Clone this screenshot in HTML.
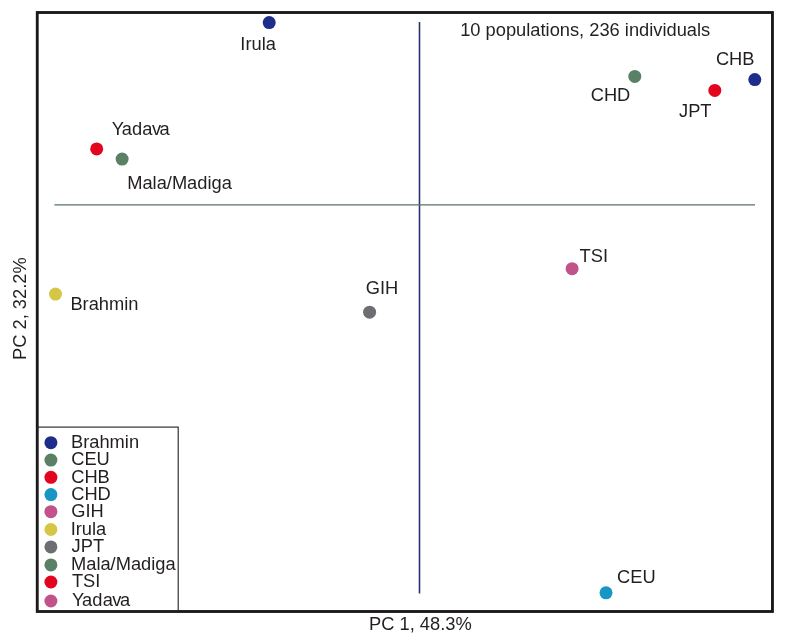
<!DOCTYPE html>
<html>
<head>
<meta charset="utf-8">
<title>PCA plot</title>
<style>
  html, body { margin: 0; padding: 0; background: #ffffff; }
  body { width: 785px; height: 640px; overflow: hidden; }
  svg { display: block; will-change: transform; }
  text { font-family: "Liberation Sans", sans-serif; font-size: 18.3px; fill: #231f20; }
</style>
</head>
<body>
<svg width="785" height="640" viewBox="0 0 785 640">
  <rect x="0" y="0" width="785" height="640" fill="#ffffff"/>

  <!-- plot frame -->
  <rect x="37.25" y="12.5" width="735.2" height="599" fill="none" stroke="#1a1718" stroke-width="2.85"/>

  <!-- axes through origin -->
  <line x1="419.5" y1="22" x2="419.5" y2="593.5" stroke="#2a3470" stroke-width="1.6"/>
  <line x1="54.4" y1="204.8" x2="755" y2="204.8" stroke="#557560" stroke-width="1.25"/>

  <!-- legend box -->
  <rect x="37.5" y="427.1" width="140.7" height="184.4" fill="none" stroke="#231f20" stroke-width="1.1"/>

  <!-- data points -->
  <circle cx="269.2" cy="22.6" r="6.5" fill="#1e2d8a"/>
  <circle cx="96.7"  cy="148.9" r="6.5" fill="#e3051f"/>
  <circle cx="122.1" cy="159.1" r="6.5" fill="#5a8166"/>
  <circle cx="55.5"  cy="294.1" r="6.5" fill="#d6c646"/>
  <circle cx="369.6" cy="312.2" r="6.5" fill="#6d6e71"/>
  <circle cx="572.1" cy="268.7" r="6.5" fill="#c2528a"/>
  <circle cx="634.8" cy="76.4" r="6.5" fill="#5a8166"/>
  <circle cx="714.8" cy="90.4" r="6.5" fill="#e3051f"/>
  <circle cx="754.8" cy="79.6" r="6.5" fill="#1e2d8a"/>
  <circle cx="606.0" cy="592.8" r="6.5" fill="#1896c3"/>

  <!-- point labels -->
  <text x="240.3" y="49.6">Irula</text>
  <text x="111.7" y="134.9" dx="0 -0.9 0.15 0.15 -0.5 -1.5">Yadava</text>
  <text x="127.2" y="189.0">Mala/Madiga</text>
  <text x="70.4" y="309.9">Brahmin</text>
  <text x="365.7" y="294.3">GIH</text>
  <text x="579.6" y="262.2">TSI</text>
  <text x="590.7" y="100.8">CHD</text>
  <text x="679.0" y="116.9">JPT</text>
  <text x="715.9" y="65.1">CHB</text>
  <text x="617.1" y="582.6">CEU</text>
  <text x="460.2" y="35.8">10 populations, 236 individuals</text>

  <!-- axis labels -->
  <text x="369.0" y="630.2">PC 1, 48.3%</text>
  <text transform="translate(25.6 360.0) rotate(-90)">PC 2, 32.2%</text>

  <!-- legend -->
  <g>
    <circle cx="50.9" cy="442.7" r="6.5" fill="#1e2d8a"/>
    <circle cx="50.9" cy="460.1" r="6.5" fill="#5a8166"/>
    <circle cx="50.9" cy="477.3" r="6.5" fill="#e3051f"/>
    <circle cx="50.9" cy="494.6" r="6.5" fill="#1896c3"/>
    <circle cx="50.9" cy="511.7" r="6.5" fill="#c2528a"/>
    <circle cx="50.9" cy="529.5" r="6.5" fill="#d6c646"/>
    <circle cx="50.9" cy="546.9" r="6.5" fill="#6d6e71"/>
    <circle cx="50.9" cy="564.9" r="6.5" fill="#5a8166"/>
    <circle cx="50.9" cy="582.0" r="6.5" fill="#e3051f"/>
    <circle cx="50.9" cy="601.0" r="6.5" fill="#c2528a"/>
    <text x="71.0" y="447.9">Brahmin</text>
    <text x="71.2" y="465.2">CEU</text>
    <text x="71.2" y="482.6">CHB</text>
    <text x="71.2" y="500.0">CHD</text>
    <text x="71.2" y="517.4">GIH</text>
    <text x="70.7" y="534.7">Irula</text>
    <text x="71.6" y="552.0">JPT</text>
    <text x="71.0" y="569.9">Mala/Madiga</text>
    <text x="71.9" y="586.9">TSI</text>
    <text x="72.1" y="605.6" dx="0 -0.9 0.15 0.15 -0.5 -1.5">Yadava</text>
  </g>
</svg>
</body>
</html>
